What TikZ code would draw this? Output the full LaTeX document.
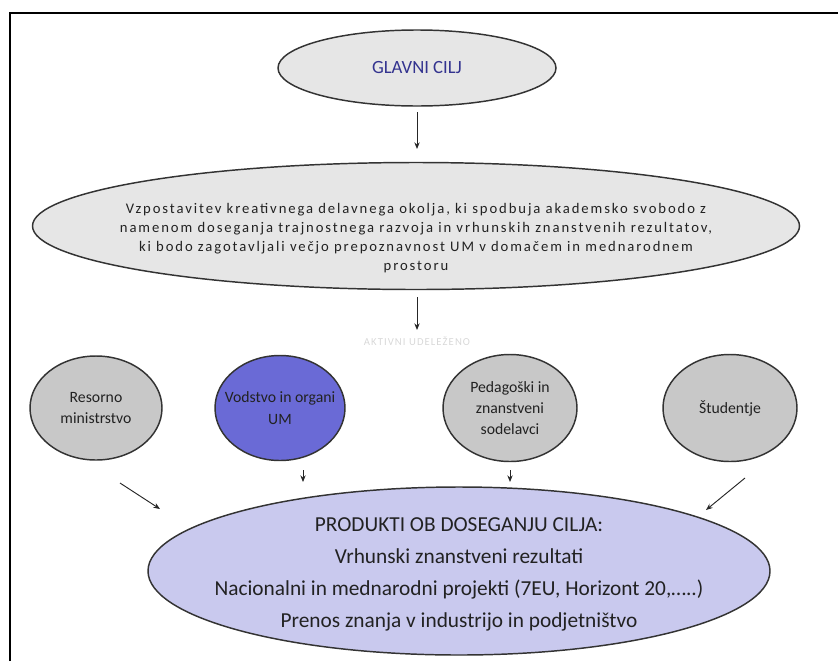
\documentclass[tikz,border=0pt]{standalone}
\usepackage{fontspec}
\setmainfont{Carlito}
\usetikzlibrary{shapes.geometric,arrows.meta}
\newlength\pxu
\setlength\pxu{0.75pt}
\definecolor{lightgrayfill}{HTML}{E6E6E6}
\definecolor{midgrayfill}{HTML}{C8C8C8}
\definecolor{bluefill}{HTML}{6A6AD6}
\definecolor{lavfill}{HTML}{C9C9EE}
\definecolor{navytext}{HTML}{33338F}
\definecolor{darktext}{HTML}{222222}
\definecolor{faint}{HTML}{D8D8D8}
\tikzset{
  oval/.style={ellipse, draw=black!80, line width=1.1pt, inner sep=0pt},
  conn/.style={-{Stealth[length=5pt,width=4pt]}, line width=0.7pt, black!85},
  rowtext/.style={font=\fontsize{11.8}{16}\selectfont, text=darktext, align=center},
}
\begin{document}
\begin{tikzpicture}[x=\pxu, y=-\pxu]
\useasboundingbox (0,0) rectangle (838,661);
% frame
\draw[line width=2.4\pxu] (10,661) -- (10,13) -- (838,13);

% top ellipse
\node[oval, fill=lightgrayfill, minimum width=278\pxu, minimum height=76\pxu] (g) at (417,68) {};
\node[font=\fontsize{14}{16}\selectfont, text=navytext] (gt) at (417,68) {GLAVNI CILJ};

% big ellipse
\node[oval, fill=lightgrayfill, minimum width=767\pxu, minimum height=127\pxu] (b) at (416,226) {};
\node[align=center, text=darktext, font=\addfontfeatures{LetterSpace=13}\fontsize{11}{14.3}\selectfont] (bt) at (416,238)
 {Vzpostavitev kreativnega delavnega okolja, ki spodbuja akademsko svobodo z\\
  namenom doseganja trajnostnega razvoja in vrhunskih znanstvenih rezultatov,\\
  ki bodo zagotavljali večjo prepoznavnost UM v domačem in mednarodnem\\
  prostoru};

% faint label
\node[font=\addfontfeatures{LetterSpace=10}\fontsize{8}{10}\selectfont, text=faint] (akt) at (417,341) {AKTIVNI UDELEŽENO};

% row ellipses
\node[oval, fill=midgrayfill, minimum width=132\pxu, minimum height=104\pxu] (r1) at (96,408) {};
\node[rowtext] at (r1) {Resorno\\ministrstvo};
\node[oval, fill=bluefill, minimum width=130\pxu, minimum height=105\pxu] (r2) at (280,408) {};
\node[rowtext] at (r2) {Vodstvo in organi\\UM};
\node[oval, fill=midgrayfill, minimum width=134\pxu, minimum height=107\pxu] (r3) at (510,408) {};
\node[rowtext] at (r3) {Pedagoški in\\znanstveni\\sodelavci};
\node[oval, fill=midgrayfill, minimum width=134\pxu, minimum height=107\pxu] (r4) at (730,408) {};
\node[rowtext] at (r4) {Študentje};

% bottom ellipse
\node[oval, fill=lavfill, minimum width=622\pxu, minimum height=168\pxu] (p) at (459,571) {};
\node[align=center, text=darktext, font=\fontsize{16}{24}\selectfont] (pt) at (459,574)
 {PRODUKTI OB DOSEGANJU CILJA:\\
  Vrhunski znanstveni rezultati\\
  Nacionalni in mednarodni projekti (7EU, Horizont 20,…..)\\
  Prenos znanja v industrijo in podjetništvo};

% connector free ends
\coordinate (a1s) at (417,112);
\coordinate (a1e) at (417,149);
\coordinate (a2s) at (417,297);
\coordinate (a2e) at (417,330);
\coordinate (d1s) at (120,483);
\coordinate (d1e) at (160,509);
\coordinate (d2s) at (303,470);
\coordinate (d2e) at (303,482);
\coordinate (d3s) at (510,470);
\coordinate (d3e) at (510,482);
\coordinate (d4s) at (745,478);
\coordinate (d4e) at (706,510);

\draw[conn] (a1s) -- (a1e);
\draw[conn] (a2s) -- (a2e);
\draw[conn] (d1s) -- (d1e);
\draw[conn] (d2s) -- (d2e);
\draw[conn] (d3s) -- (d3e);
\draw[conn] (d4s) -- (d4e);
\end{tikzpicture}
\end{document}
